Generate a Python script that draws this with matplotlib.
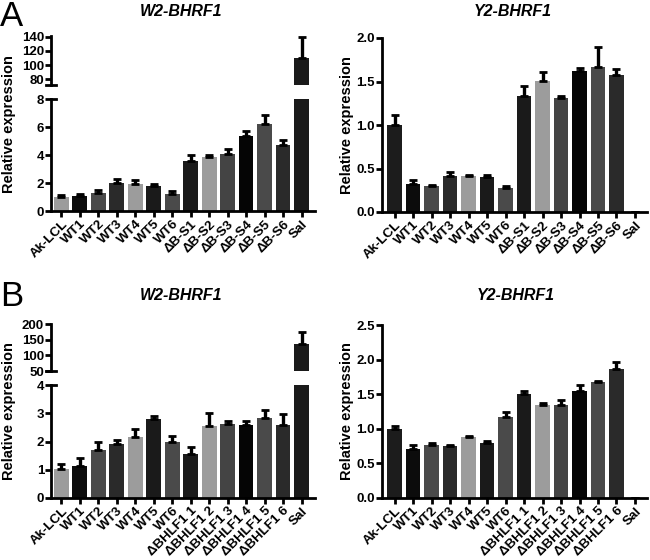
import numpy as np
import matplotlib
matplotlib.use("Agg")
from matplotlib import pyplot as plt

plt.rcParams['font.family'] = ['Liberation Sans', 'DejaVu Sans']
plt.rcParams['font.weight'] = 'bold'

# data
labels_a = ["Ak-LCL", "WT1", "WT2", "WT3", "WT4", "WT5", "WT6",
            "ΔB-S1", "ΔB-S2", "ΔB-S3", "ΔB-S4", "ΔB-S5", "ΔB-S6", "Sal"]
labels_b = ["Ak-LCL", "WT1", "WT2", "WT3", "WT4", "WT5", "WT6",
            "ΔBHLF1 1", "ΔBHLF1 2", "ΔBHLF1 3", "ΔBHLF1 4", "ΔBHLF1 5", "ΔBHLF1 6", "Sal"]

a_w2 = [1.0, 1.05, 1.32, 2.0, 1.96, 1.8, 1.22, 3.57, 3.87, 4.05, 5.33, 6.25, 4.68, 110]
a_w2_err = [0.15, 0.18, 0.15, 0.3, 0.22, 0.14, 0.24, 0.42, 0.12, 0.35, 0.42, 0.62, 0.4, 29]
a_y2 = [1.0, 0.32, 0.30, 0.41, 0.41, 0.40, 0.28, 1.33, 1.51, 1.31, 1.62, 1.67, 1.58, 0]
a_y2_err = [0.11, 0.05, 0.01, 0.05, 0.01, 0.02, 0.02, 0.12, 0.10, 0.02, 0.04, 0.23, 0.06, 0]

b_w2 = [1.02, 1.14, 1.7, 1.92, 2.15, 2.8, 2.0, 1.55, 2.55, 2.63, 2.6, 2.83, 2.58, 138]
b_w2_err = [0.17, 0.27, 0.28, 0.14, 0.29, 0.09, 0.2, 0.24, 0.45, 0.08, 0.12, 0.28, 0.38, 38]
b_y2 = [1.0, 0.71, 0.77, 0.75, 0.88, 0.8, 1.17, 1.5, 1.34, 1.34, 1.54, 1.67, 1.87, 0]
b_y2_err = [0.04, 0.06, 0.03, 0.02, 0.01, 0.03, 0.07, 0.04, 0.04, 0.08, 0.1, 0.02, 0.1, 0]

colors_light = ["#9c9c9c", "#0c0c0c", "#4a4a4a", "#2a2a2a", "#9c9c9c", "#1a1a1a", "#4a4a4a",
                "#1a1a1a", "#9c9c9c", "#444444", "#050505", "#4a4a4a", "#2a2a2a", "#1a1a1a"]
colors_dark = ["#1c1c1c"] + colors_light[1:]

LW = 2.0
YTICK_FS = 9.5
XTICK_FS = 9.6


def style_axis(ax):
    ax.spines['top'].set_visible(False)
    ax.spines['right'].set_visible(False)
    ax.spines['left'].set_linewidth(LW)
    ax.spines['bottom'].set_linewidth(LW)
    ax.tick_params(width=LW, length=4, labelsize=YTICK_FS, pad=1)
    for t in ax.get_yticklabels():
        t.set_fontweight('bold')


def draw_bars(ax, values, errs, colors):
    x = np.arange(len(values))
    ax.bar(x, values, width=0.8, color=colors, zorder=2)
    ax.errorbar(x, values, yerr=[np.zeros(len(errs)), errs], fmt='none',
                ecolor='black', elinewidth=2.4, capsize=2.6, capthick=2, zorder=3)
    return x


def set_xlabels(ax, x, labels):
    ax.set_xticks(x)
    ax.set_xticklabels(labels, rotation=45, ha='right', rotation_mode='anchor',
                       fontsize=XTICK_FS, fontweight='bold')


def broken_panel(fig, rect_low, rect_high, values, errs, colors, labels,
                 lo_lim, lo_ticks, hi_lim, hi_ticks, xlim):
    ax_lo = fig.add_axes(rect_low)
    ax_hi = fig.add_axes(rect_high)
    x = draw_bars(ax_lo, values, errs, colors)
    draw_bars(ax_hi, values, errs, colors)
    ax_lo.set_ylim(*lo_lim)
    ax_lo.set_yticks(lo_ticks)
    ax_hi.set_ylim(*hi_lim)
    ax_hi.set_yticks(hi_ticks)
    for ax in (ax_lo, ax_hi):
        ax.set_xlim(*xlim)
        style_axis(ax)
    ax_hi.spines['bottom'].set_visible(False)
    ax_hi.tick_params(axis='x', bottom=False, labelbottom=False)
    set_xlabels(ax_lo, x, labels)
    # break caps on the y axis
    ax_hi.plot([-0.018, 0.018], [0, 0], color='black', lw=LW,
               transform=ax_hi.transAxes, clip_on=False)
    ax_lo.plot([0, 0.018], [1, 1], color='black', lw=LW,
               transform=ax_lo.transAxes, clip_on=False)
    return ax_lo, ax_hi


def simple_panel(fig, rect, values, errs, colors, labels, ylim, yticks, xlim):
    ax = fig.add_axes(rect)
    x = draw_bars(ax, values, errs, colors)
    ax.set_ylim(*ylim)
    ax.set_yticks(yticks)
    ax.set_yticklabels([f"{v:.1f}" for v in yticks])
    ax.set_xlim(*xlim)
    style_axis(ax)
    set_xlabels(ax, x, labels)
    return ax


W, H = 650, 560
fig = plt.figure(figsize=(W / 100, H / 100), dpi=100)


def rect(left, right, top, bottom):
    return [left / W, 1 - bottom / H, (right - left) / W, (bottom - top) / H]


XLIM_L = (-0.56, 13.73)
XLIM_R = (-0.68, 13.65)

# A left: W2-BHRF1 (broken axis)
broken_panel(fig, rect(51, 315, 99, 211), rect(51, 315, 36, 85),
             a_w2, a_w2_err, colors_light, labels_a,
             (0, 8), [0, 2, 4, 6, 8], (72, 141), [80, 100, 120, 140], XLIM_L)
# A right: Y2-BHRF1
simple_panel(fig, rect(382, 647, 38, 212), a_y2, a_y2_err, colors_dark, labels_a,
             (0, 2.0), [0.0, 0.5, 1.0, 1.5, 2.0], XLIM_R)
# B left: W2-BHRF1 (broken axis)
broken_panel(fig, rect(51, 315, 385, 498), rect(51, 315, 324, 371),
             b_w2, b_w2_err, colors_light, labels_b,
             (0, 4), [0, 1, 2, 3, 4], (50, 201), [50, 100, 150, 200], XLIM_L)
# B right: Y2-BHRF1
simple_panel(fig, rect(382, 647, 325, 498), b_y2, b_y2_err, colors_dark, labels_b,
             (0, 2.5), [0.0, 0.5, 1.0, 1.5, 2.0, 2.5], XLIM_R)

# titles
title_kw = dict(ha='center', va='center', fontsize=11.5, fontweight='bold', style='italic')
fig.text(181 / W, 1 - 12 / H, "W2-BHRF1", **title_kw)
fig.text(513 / W, 1 - 12 / H, "Y2-BHRF1", **title_kw)
fig.text(181 / W, 1 - 295 / H, "W2-BHRF1", **title_kw)
fig.text(516 / W, 1 - 295 / H, "Y2-BHRF1", **title_kw)

# y labels
ylab_kw = dict(ha='center', va='center', rotation=90, fontsize=10.5, fontweight='bold')
fig.text(9 / W, 1 - 124 / H, "Relative expression", **ylab_kw)
fig.text(347 / W, 1 - 125 / H, "Relative expression", **ylab_kw)
fig.text(9 / W, 1 - 411 / H, "Relative expression", **ylab_kw)
fig.text(347 / W, 1 - 411 / H, "Relative expression", **ylab_kw)

# panel letters
fig.text(0 / W, 1 - 0 / H, "A", ha='left', va='top', fontsize=25, fontweight='normal')
fig.text(0 / W, 1 - 280 / H, "B", ha='left', va='top', fontsize=25, fontweight='normal')

fig.savefig("out.png", dpi=100, facecolor='white')
